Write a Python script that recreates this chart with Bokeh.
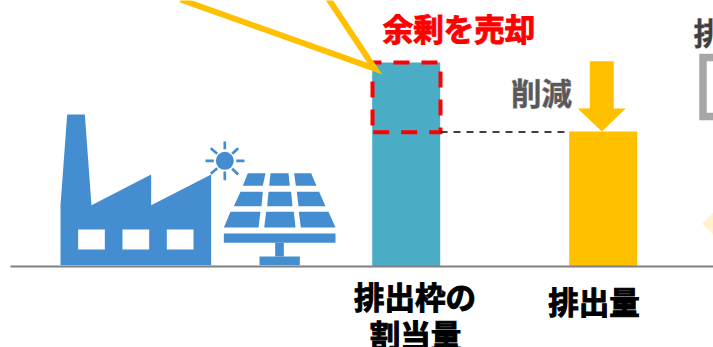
from bokeh.core.properties import value
from bokeh.embed import file_html
from bokeh.models import Range1d
from bokeh.plotting import figure
from bokeh.resources import INLINE

# Bar chart values, measured upward from the ground line
bar_names = ["排出枠の\n割当量", "排出量"]
bar_values = [204, 135]
surplus_label = "余剰を売却"
reduction_label = "削減"
cut_off_label = "排"

BLUE = "#4BACC6"
YELLOW = "#FFC000"
RED = "#FF0000"
ICON = "#458DD1"
GROUND = 266
FONT = value("Noto Sans CJK JP")

p = figure(width=713, height=347, output_backend="svg", toolbar_location=None,
           x_range=Range1d(0, 713), y_range=Range1d(GROUND - 347, GROUND),
           min_border=0, outline_line_color=None, background_fill_color="white",
           border_fill_color="white")
p.axis.visible = False
p.grid.visible = False


def up(ys):
    """Page row positions to heights above the ground line."""
    return [GROUND - y for y in ys]


def poly(xs, ys, color=ICON):
    p.patch(xs, up(ys), fill_color=color, line_color=None)


def art(points):
    """Polygon drawn on the icon's own grid: one third of a pixel, offset to its corner."""
    poly([40 + x / 3 for x, _ in points], [100 + y / 3 for _, y in points])


# Bars
bar_left = [371.7, 568.7]
bar_right = [439.7, 636.7]
p.quad(left=bar_left[:1], right=bar_right[:1], bottom=[0], top=bar_values[:1],
       fill_color=BLUE, line_color=None)
p.quad(left=bar_left[1:], right=bar_right[1:], bottom=[0], top=bar_values[1:],
       fill_color=YELLOW, line_color=None)

# Ground line
p.line([10, 713], [0, 0], line_color="#808080", line_width=2)

# Factory
art([(80, 42), (133, 42), (153, 314), (332, 222), (332, 314), (512, 222),
     (512, 494), (60, 494), (60, 314)])
for x0, x1 in [(113, 193), (246, 326), (379, 459)]:
    p.quad(left=[40 + x0 / 3], right=[40 + x1 / 3], top=up([229]), bottom=up([249]),
           fill_color="white", line_color=None)

# Sun
p.circle([224.3], up([160.3]), radius=9, fill_color=ICON, line_color=None)
rays = [((224.3, 141), (224.3, 148.7)), ((224.3, 171), (224.3, 179.7)),
        ((205, 160.3), (213.3, 160.3)), ((235.7, 160.3), (244, 160.3)),
        ((210.3, 147.7), (216.7, 153.3)), ((237.7, 147.7), (231.7, 153.3)),
        ((210.3, 173.3), (216.7, 167.7)), ((237.7, 174), (231.7, 168.3))]
for a, b in rays:
    p.line([a[0], b[0]], up([a[1], b[1]]), line_color=ICON, line_width=2.7)

# Solar panel
for cell in [
    [(622, 218), (675, 218), (667, 256), (607, 256)],
    [(690, 218), (744, 218), (748, 256), (686, 256)],
    [(761, 218), (812, 218), (828, 256), (766, 256)],
    [(600, 274), (667, 274), (663, 317), (580, 317)],
    [(684, 274), (752, 274), (756, 317), (680, 317)],
    [(769, 274), (836, 274), (855, 317), (774, 317)],
    [(570, 334), (660, 334), (654, 381), (550, 381)],
    [(677, 334), (760, 334), (765, 381), (671, 381)],
    [(775, 334), (864, 334), (885, 381), (781, 381)],
    [(550, 399), (885, 399), (885, 427), (550, 427)],
    [(704, 427), (730, 427), (730, 468), (704, 468)],
    [(657, 468), (778, 468), (778, 494), (657, 494)],
]:
    art(cell)

# Surplus outline on the allocation bar, in two runs so the dashes fall evenly
p.line([393, 440, 440, 372], up([62, 62, 131.7, 131.7]), line_color=RED, line_width=4,
       line_dash="16 12", line_join="miter")
p.line([372, 372, 393], up([125, 62, 62]), line_color=RED, line_width=4,
       line_dash="16 12", line_join="miter")

# Callout lines meeting at the top-left corner of the allocation bar
p.line([180, 374.3, 325], up([-1, 68.2, -6]), line_color=YELLOW, line_width=6,
       line_join="miter")

# Link from the allocation bar to the emissions level
p.line([440, 569], up([131.5, 131.5]), line_color="black", line_width=1.7, line_dash="7 6")

# Reduction arrow
poly([589.3, 613.3, 613.3, 625.3, 601.3, 577.3, 589.3],
     [60.7, 60.7, 108, 108, 131, 108, 108], YELLOW)

# Items running off the right edge
p.quad(left=[702.5], right=[770], top=up([57]), bottom=up([116]), fill_color=None,
       line_color="#A6A6A6", line_width=7.5, line_join="miter")
poly([701.7, 724, 746, 724], [223.3, 201, 223.3, 246], "#FFF2CC")


# Labels
def label(x, y, text, color, align="center", outline=None):
    p.text([x], up([y]), text=[text], text_font=FONT, text_font_style="bold",
           text_font_size="30.5px", text_color=color, text_align=align,
           text_baseline="middle", text_outline_color=outline or color)


label(458.5, 27.5, surplus_label, RED)
label(541, 91.5, reduction_label, "#595959", outline="#59595966")
label(414.5, 295.5, bar_names[0].split("\n")[0], "black")
label(415, 333.5, bar_names[0].split("\n")[1], "black")
label(593.5, 300.5, bar_names[1], "black")
label(693, 31, cut_off_label, "#404040", "left", outline="#40404066")

open("out.html", "w").write(file_html(p, INLINE))
